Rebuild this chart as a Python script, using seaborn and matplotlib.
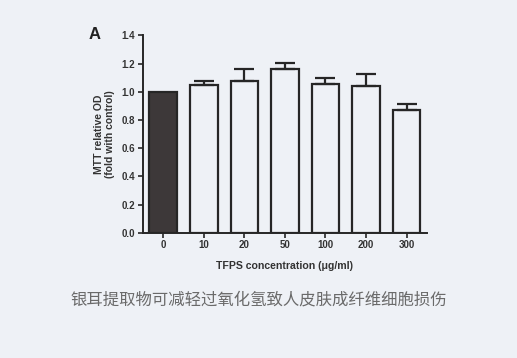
import matplotlib
matplotlib.use("Agg")
import matplotlib.pyplot as plt
import seaborn as sns
import numpy as np

# 数据
concentrations = ["0", "10", "20", "50", "100", "200", "300"]
mtt_od = [1.00, 1.045, 1.08, 1.165, 1.055, 1.04, 0.87]
sem = [0.0, 0.035, 0.085, 0.04, 0.045, 0.085, 0.04]

BG = "#eef1f6"
INK = "#262626"

sns.set_theme(style="white")
plt.rcParams['font.family'] = ['Liberation Sans', 'Noto Sans CJK SC', 'DejaVu Sans']

fig = plt.figure(figsize=(5.17, 3.58), dpi=100)
fig.patch.set_facecolor(BG)
ax = fig.add_axes([0.2766, 0.35, 0.549, 0.551])
ax.set_facecolor(BG)

colors = ["#3d3839"] + [BG] * (len(concentrations) - 1)
sns.barplot(x=concentrations, y=mtt_od, hue=concentrations, palette=colors,
            legend=False, width=0.68, edgecolor=INK, linewidth=1.6, ax=ax,
            saturation=1)

xs = np.arange(len(concentrations))
ax.errorbar(xs[1:], mtt_od[1:], yerr=[np.zeros(len(xs) - 1), sem[1:]],
            fmt="none", ecolor=INK, elinewidth=1.6, capsize=7, capthick=1.6)

ax.set_xlim(-0.5, 6.5)
ax.set_ylim(0, 1.4)
ax.set_yticks(np.arange(0, 1.41, 0.2))
ax.set_yticklabels([f"{v:.1f}" for v in np.arange(0, 1.41, 0.2)])
sns.despine(ax=ax)
for s in ["left", "bottom"]:
    ax.spines[s].set_color(INK)
    ax.spines[s].set_linewidth(1.4)
ax.tick_params(axis="both", direction="out", length=3.5, width=1.2, color=INK,
               labelsize=7, labelcolor="#333333", pad=2, left=True, bottom=True)
for lab in ax.get_xticklabels() + ax.get_yticklabels():
    lab.set_fontweight("bold")

ax.set_xlabel("TFPS concentration (\u03bcg/ml)", fontsize=7.6, fontweight="bold",
              color="#333333", labelpad=8)
ax.set_ylabel("MTT relative OD\n(fold with control)", fontsize=7.5,
              fontweight="bold", color="#333333", labelpad=5, linespacing=1.1)

fig.text(0.172, 0.905, "A", fontsize=12, fontweight="bold", color="#222222",
         ha="left", va="center")
fig.text(0.5, 0.162, "银耳提取物可减轻过氧化氢致人皮肤成纤维细胞损伤",
         fontsize=11.8, color="#6a6a6a", ha="center", va="center",
         family=['Noto Sans CJK SC', 'DejaVu Sans'])

fig.savefig("out.png", dpi=100, facecolor=BG)
